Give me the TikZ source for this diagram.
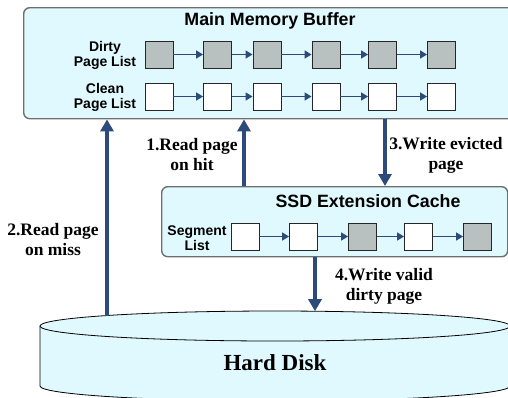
\documentclass[tikz,border=0pt]{standalone}
\usepackage{fontspec}
\setmainfont{Liberation Serif}
\setsansfont{Liberation Sans}
\usetikzlibrary{arrows.meta}
\definecolor{boxfill}{HTML}{E0F9FE}
\definecolor{navy}{HTML}{2C4A7A}
\definecolor{pagegrey}{HTML}{B8C0C0}
\definecolor{framegrey}{HTML}{6E7070}

\begin{document}
\begin{tikzpicture}[x=1pt,y=-1pt,
  panel/.style={draw=framegrey, line width=1.4pt, fill=boxfill, rounded corners=6pt, inner sep=0pt},
  page/.style={draw=black!85, line width=0.9pt, minimum width=28pt, minimum height=27pt, inner sep=0pt},
  dirtypage/.style={page, fill=pagegrey},
  cleanpage/.style={page, fill=white},
  link/.style={draw=navy, line width=1.6pt, -{Triangle[length=7pt,width=8pt]}},
  flow/.style={draw=navy, line width=3.5pt, -{Triangle[length=12pt,width=13pt]}},
  title/.style={font=\sffamily\bfseries\fontsize{17.8}{20}\selectfont},
  listlabel/.style={font=\sffamily\bfseries\fontsize{14}{15.5}\selectfont, align=center, inner sep=0pt},
  steplabel/.style={font=\bfseries\fontsize{17.5}{20}\selectfont, align=center, inner sep=0pt}
]
\useasboundingbox (0,0) rectangle (508,397);
\clip (0,0) rectangle (508,397);

% ---- main memory buffer ----
\node[panel, minimum width=497pt, minimum height=111pt, anchor=north west] (main) at (23,7) {};
\node[title] (maintitle) at (270,21) {Main Memory Buffer};
\node[listlabel] (dirtylbl) at (105,55.5) {Dirty\\Page List};
\node[listlabel] (cleanlbl) at (105,97.5) {Clean\\Page List};

\foreach \i/\x in {1/159,2/217.5,3/267,4/326,5/382.5,6/441.5}{
  \node[dirtypage] (d\i) at (\x,54.5) {};
  \node[cleanpage] (c\i) at (\x,96.5) {};
}
\foreach \a/\b in {1/2,2/3,3/4,4/5,5/6}{
  \draw[link] (d\a) -- (d\b);
  \draw[link] (c\a) -- (c\b);
}

% ---- SSD extension cache ----
\node[panel, minimum width=346pt, minimum height=70pt, anchor=north west] (ssd) at (161,186) {};
\node[title] (ssdtitle) at (368,201) {SSD Extension Cache};
\node[listlabel] (seglbl) at (197,238) {Segment\\List};
\node[cleanpage] (s1) at (245,236.5) {};
\node[cleanpage] (s2) at (303.5,236.5) {};
\node[dirtypage] (s3) at (362.5,236.5) {};
\node[cleanpage] (s4) at (418.5,236.5) {};
\node[dirtypage] (s5) at (477.5,236.5) {};
\foreach \a/\b in {1/2,2/3,3/4,4/5}{
  \draw[link] (s\a) -- (s\b);
}

% ---- hard disk (cylinder) ----
\draw[fill=boxfill, line width=0.8pt] (40,326) -- (40,386)
  arc[start angle=180, end angle=0, x radius=235, y radius=15] -- (510,326);
\draw[fill=boxfill, line width=0.8pt] (275,326) ellipse [x radius=235, y radius=15];
\node[font=\bfseries\fontsize{23}{26}\selectfont] (disk) at (275,363) {Hard Disk};
\coordinate (misstop) at (107,315.5);
\coordinate (dirtytop) at (315,311.2);

% ---- data flows ----
\coordinate (hitx) at (244,0);
\coordinate (evictx) at (385,0);
\draw[flow] (ssd.north -| hitx) -- (main.south -| hitx);
\draw[flow] (misstop) -- (main.south -| misstop);
\draw[flow] (main.south -| evictx) -- (ssd.north -| evictx);
\draw[flow] (ssd.south -| dirtytop) -- (dirtytop);

\node[steplabel] (l1) at (192,155) {1.Read page\\on hit};
\node[steplabel] (l2) at (53,240) {2.Read page\\on miss};
\node[steplabel] (l3) at (446,155) {3.Write evicted\\page};
\node[steplabel] (l4) at (384,286) {4.Write valid\\dirty page};
\end{tikzpicture}
\end{document}
